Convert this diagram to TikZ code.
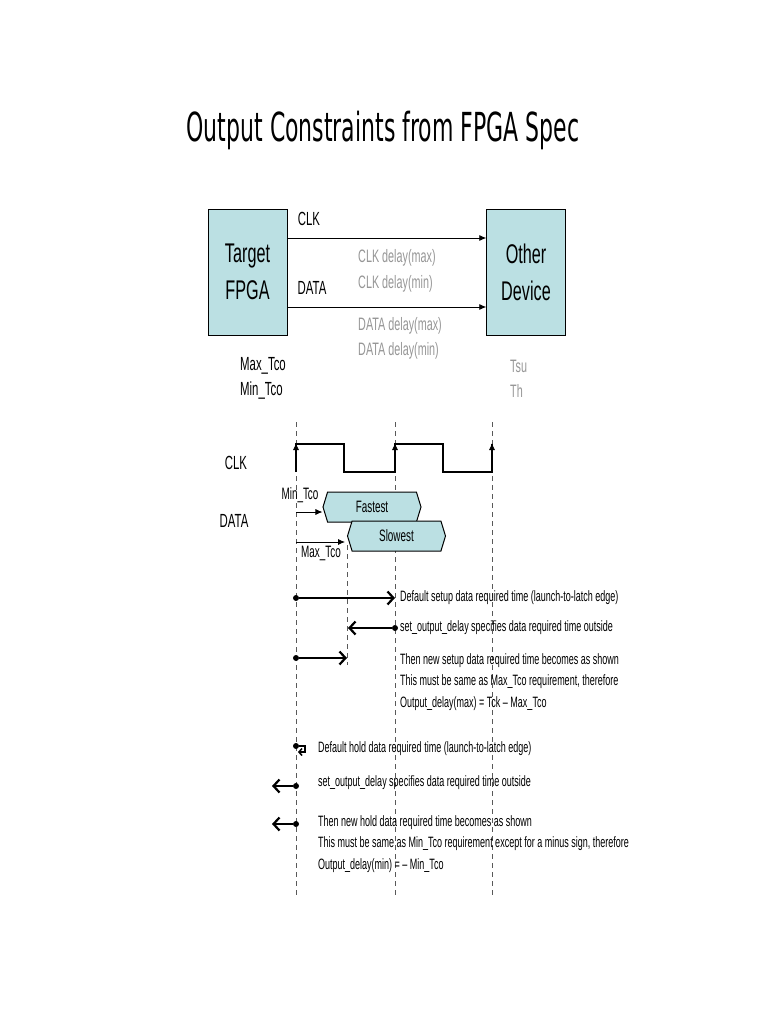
\documentclass[tikz,border=0pt]{standalone}
\usepackage{fontspec}
\setmainfont{Liberation Sans}[FakeStretch=0.6]
\newfontfamily\titlefont{DejaVu Sans}[FakeStretch=0.55]
\usetikzlibrary{arrows.meta,shapes.symbols}
\definecolor{boxcyan}{RGB}{187,224,227}
\definecolor{delaygray}{RGB}{150,150,150}

\begin{document}
\begin{tikzpicture}[x=1pt,y=-1pt,
    devbox/.style={draw, fill=boxcyan, minimum width=79pt, minimum height=126pt,
      align=center, inner sep=0pt, font=\fontsize{27}{37}\selectfont},
    sig/.style={font=\fontsize{19}{21}\selectfont},
    dly/.style={anchor=west, inner sep=0pt, text=delaygray, font=\fontsize{18}{20}\selectfont},
    tco/.style={anchor=west, inner sep=0pt, font=\fontsize{19}{21}\selectfont},
    wire/.style={thick, -{Latex[length=7pt,width=6pt]}},
    tick/.style={gray!70!black, dash pattern=on 5pt off 4pt},
    wave/.style={line width=2pt},
    hexsig/.style={draw, line width=1pt, fill=boxcyan, signal, signal to=east and west,
      signal pointer angle=146, minimum width=98pt, minimum height=30pt, inner sep=0pt,
      font=\fontsize{16.5}{18}\selectfont},
    small/.style={inner sep=1pt, font=\fontsize{16.5}{18}\selectfont},
    req/.style={line width=2.2pt, -{Straight Barb[length=6pt,width=13pt]}},
    dot/.style={circle, fill, inner sep=0pt, minimum size=6pt},
    note/.style={anchor=west, align=left, inner sep=0pt, font=\fontsize{15}{21.5}\selectfont}]
  \useasboundingbox (0,0) rectangle (768,1024);

  % title
  \node[font=\titlefont\fontsize{40}{44}\selectfont] (title) at (383,130) {Output Constraints from FPGA Spec};

  % block diagram
  \node[devbox] (fpga) at (247.5,272) {Target\\FPGA};
  \node[devbox] (other) at (526,272) {Other\\Device};
  \draw[wire] ([yshift=34pt]fpga.east) -- ([yshift=34pt]other.west);
  \draw[wire] ([yshift=-35pt]fpga.east) -- ([yshift=-35pt]other.west);
  \node[sig] (clklbl) at (309,219) {CLK};
  \node[sig] (datalbl) at (312,288) {DATA};
  \node[dly] (clkmax) at (358,258) {CLK delay(max)};
  \node[dly] (clkmin) at (358,284) {CLK delay(min)};
  \node[dly] (datamax) at (358,326) {DATA delay(max)};
  \node[dly] (datamin) at (358,351) {DATA delay(min)};
  \node[tco] (maxtco) at (240,366) {Max\_Tco};
  \node[tco] (mintco) at (240,391) {Min\_Tco};
  \node[dly] (tsu) at (510,366) {Tsu};
  \node[dly] (th) at (510,391) {Th};

  % timing grid
  \foreach \name/\x in {ea/296,eb/395,ec/492} {
    \coordinate (\name top) at (\x,422);
    \coordinate (\name bot) at (\x,898);
    \draw[tick] (\name top) -- (\name bot);
  }
  \draw[tick] (347,545) -- (347,665);

  % clock
  \node[sig] (clkwave) at (236,463) {CLK};
  \draw[wave] (296,472) -- (296,444) -- (344,444) -- (344,472) -- (395,472) -- (395,444)
    -- (443,444) -- (443,472) -- (492,472) -- (492,444);
  \foreach \x in {296,395,492}
    \draw[thick, -{Latex[length=7pt,width=6pt]}] (\x,462) -- (\x,443);

  % data windows
  \node[sig] (datawave) at (234,521) {DATA};
  \node[hexsig] (fast) at (372,507) {Fastest};
  \node[hexsig] (slow) at (396.5,536) {Slowest};
  \coordinate (minstart) at (296,512);
  \coordinate (maxstart) at (296,542);
  \draw[thick, -{Latex[length=7pt,width=6pt]}] (minstart) -- (minstart -| fast.west);
  \draw[thick, -{Latex[length=7pt,width=6pt]}] (maxstart) -- (345,542);
  \node[small] (mintcolbl) at (300,495) {Min\_Tco};
  \node[small] (maxtcolbl) at (321,553) {Max\_Tco};

  % setup
  \node[dot] (s1) at (296,598) {};
  \coordinate (s1end) at (395,598);
  \draw[req] (s1) -- (s1end);
  \node[note] (n1) at (400,598) {Default setup data required time (launch-to-latch edge)};
  \node[dot] (s2) at (395,628) {};
  \coordinate (s2end) at (348,628);
  \draw[req] (s2) -- (s2end);
  \node[note] (n2) at (400,628) {set\_output\_delay specifies data required time outside};
  \node[dot] (s3) at (296,658) {};
  \coordinate (s3end) at (347,658);
  \draw[req] (s3) -- (s3end);
  \node[note, anchor=north west] (n3) at (400,653) {Then new setup data required time becomes as shown\\
    This must be same as Max\_Tco requirement, therefore\\
    Output\_delay(max) = Tck -- Max\_Tco};

  % hold
  \node[dot] (h1) at (296,746) {};
  \draw[line width=1.5pt, -{Straight Barb[length=3pt,width=7pt]}] (h1) -- ++(9,0) -- ++(0,6) -- ++(-7,0);
  \node[note] (n4) at (318,749) {Default hold data required time (launch-to-latch edge)};
  \node[dot] (h2) at (296,786) {};
  \coordinate (h2end) at (272,786);
  \draw[req] (h2) -- (h2end);
  \node[note] (n5) at (318,783) {set\_output\_delay specifies data required time outside};
  \node[dot] (h3) at (296,824) {};
  \coordinate (h3end) at (272,824);
  \draw[req] (h3) -- (h3end);
  \node[note, anchor=north west] (n6) at (318,815) {Then new hold data required time becomes as shown\\
    This must be same as Min\_Tco requirement except for a minus sign, therefore\\
    Output\_delay(min) = -- Min\_Tco};
\end{tikzpicture}
\end{document}
